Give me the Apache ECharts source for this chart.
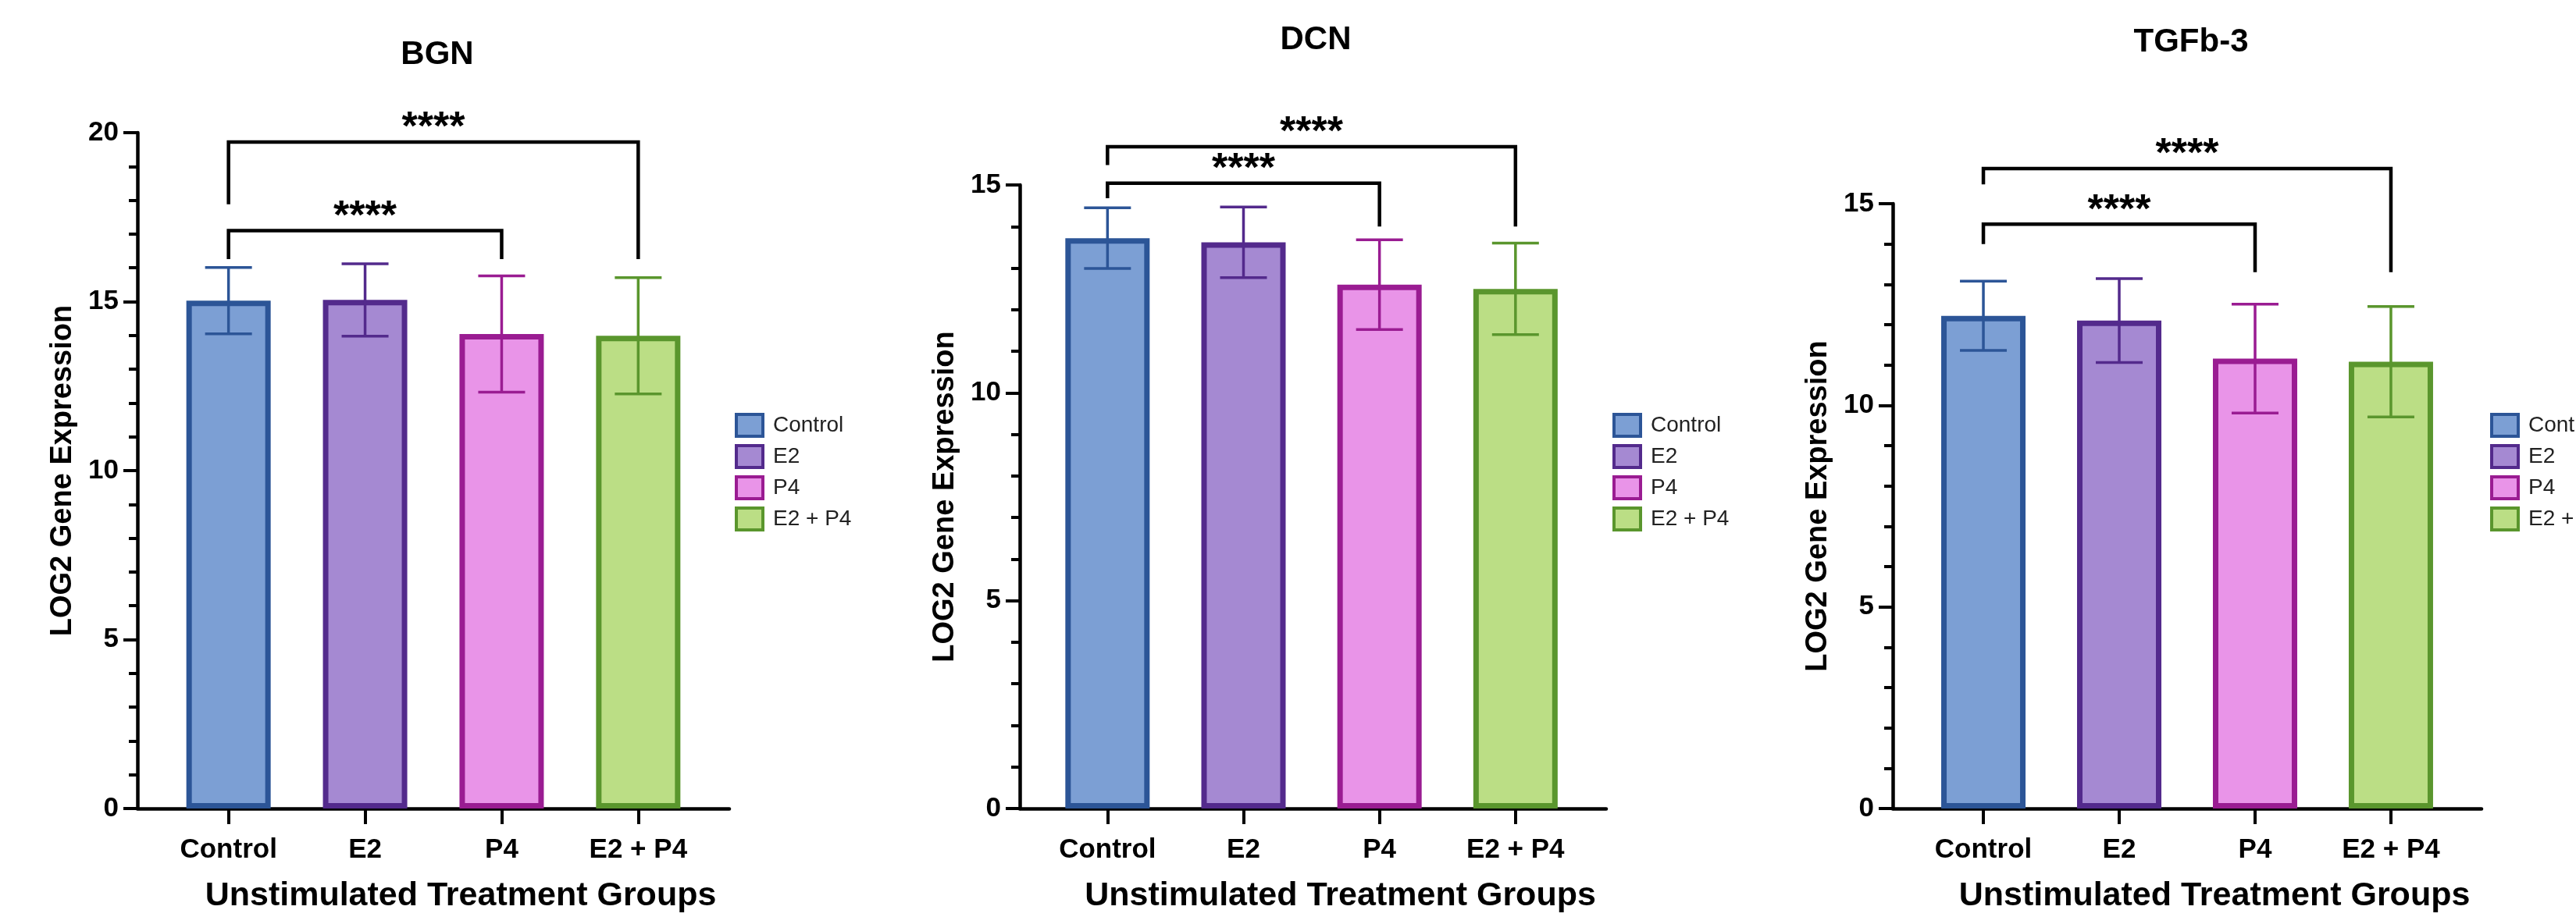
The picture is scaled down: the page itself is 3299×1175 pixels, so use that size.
<!DOCTYPE html>
<html>
<head>
<meta charset="utf-8">
<script src="https://cdn.jsdelivr.net/npm/echarts@6/dist/echarts.min.js"></script>
<style>
html,body{margin:0;padding:0;background:#fff;}
#c{width:3299px;height:1175px;}
</style>
</head>
<body>
<div id="c"></div>
<script>
// ---- data ----
const categories = ['Control', 'E2', 'P4', 'E2 + P4'];
const panelTitles = ['BGN', 'DCN', 'TGFb-3'];
const bgnMean = [15.03, 15.05, 14.04, 13.99];
const bgnSD   = [0.98, 1.07, 1.72, 1.72];
const dcnMean = [13.72, 13.62, 12.60, 12.50];
const dcnSD   = [0.73, 0.85, 1.08, 1.10];
const tgfMean = [12.22, 12.10, 11.16, 11.08];
const tgfSD   = [0.86, 1.04, 1.35, 1.37];
// brackets: [fromCat, toCat, level, leftEnd, rightEnd]
const bgnBrackets = [[0, 2, 17.10, 16.26, 16.26], [0, 3, 19.72, 17.88, 16.26]];
const dcnBrackets = [[0, 2, 15.04, 14.68, 14.00], [0, 3, 15.92, 15.48, 14.00]];
const tgfBrackets = [[0, 2, 14.49, 14.00, 13.30], [0, 3, 15.87, 15.48, 13.30]];
const yMaxes = [20, 15, 15];
const yTickStep = 5;
const sigLabel = '****';
const yName = 'LOG2 Gene Expression';
const xName = 'Unstimulated Treatment Groups';

// ---- styles ----
const fills   = ['#7C9FD4', '#A589D2', '#E994E8', '#BBDE85'];
const borders = ['#2C5597', '#532A8C', '#9A1C92', '#5A962D'];
const FONT = '"Liberation Sans", Arial, Helvetica, sans-serif';
const layouts = [
  {left: 176, right: 3299 - 934, top: 170, title: 555, titleTop: 44, legend: 936},
  {left: 1306, right: 3299 - 2057, top: 237, title: 1680, titleTop: 25, legend: 2060},
  {left: 2424, right: 3299 - 3178, top: 261, title: 2801, titleTop: 28, legend: 3184}
];
const means = [bgnMean, dcnMean, tgfMean];
const sds = [bgnSD, dcnSD, tgfSD];
const brackets = [bgnBrackets, dcnBrackets, tgfBrackets];

const catIdx = categories.map((c, i) => i);
const pads = [[0.667, 0.667], [0.645, 0.667], [0.667, 0.667]];

const grid = [], xAxis = [], yAxis = [], series = [], title = [], legend = [];

function errRender(params, api) {
  const i = api.value(0);
  const lo = api.coord([i, api.value(1)]);
  const hi = api.coord([i, api.value(2)]);
  const half = 30;
  const st = {stroke: borders[i], lineWidth: 3.5};
  return {type: 'group', children: [
    {type: 'line', shape: {x1: lo[0], y1: lo[1], x2: hi[0], y2: hi[1]}, style: st},
    {type: 'line', shape: {x1: hi[0] - half, y1: hi[1], x2: hi[0] + half, y2: hi[1]}, style: st},
    {type: 'line', shape: {x1: lo[0] - half, y1: lo[1], x2: lo[0] + half, y2: lo[1]}, style: st}
  ]};
}
function brRender(params, api) {
  const x1 = api.value(0), x2 = api.value(1);
  const a = api.coord([x1, api.value(2)]);
  const b = api.coord([x2, api.value(2)]);
  const al = api.coord([x1, api.value(3)]);
  const br = api.coord([x2, api.value(4)]);
  return {type: 'group', children: [
    {type: 'polyline', shape: {points: [al, a, b, br]},
     style: {stroke: '#000', lineWidth: 4.5, fill: null, lineJoin: 'miter'}},
    {type: 'text', style: {text: sigLabel, x: (a[0] + b[0]) / 2, y: a[1] - 17,
      align: 'center', verticalAlign: 'middle', fill: '#000',
      font: 'bold 52px ' + FONT}}
  ]};
}

layouts.forEach((L, p) => {
  grid.push({left: L.left, right: L.right, top: L.top, bottom: 1175 - 1043, containLabel: false});
  xAxis.push({
    type: 'value', gridIndex: p, min: -pads[p][0], max: categories.length - 1 + pads[p][1],
    splitLine: {show: false},
    axisLine: {show: true, onZero: false, lineStyle: {color: '#000', width: 4.5}},
    axisTick: {show: true, customValues: catIdx, length: 20, lineStyle: {color: '#000', width: 4}},
    axisLabel: {show: true, customValues: catIdx, formatter: v => categories[Math.round(v)],
      margin: 36, fontSize: 35, fontWeight: 'bold', color: '#000', fontFamily: FONT},
    name: xName, nameLocation: 'middle', nameGap: 91,
    nameTextStyle: {fontSize: 43, fontWeight: 'bold', color: '#000', fontFamily: FONT, padding: [0, 0, 0, 70]}
  });
  yAxis.push({
    type: 'value', gridIndex: p, min: 0, max: yMaxes[p], interval: yTickStep,
    splitLine: {show: false},
    axisLine: {show: true, onZero: false, lineStyle: {color: '#000', width: 4.5}},
    axisTick: {show: true, length: 18, lineStyle: {color: '#000', width: 4}},
    minorTick: {show: true, splitNumber: 5, length: 11, lineStyle: {color: '#000', width: 4}},
    axisLabel: {margin: 24, fontSize: 35, fontWeight: 'bold', color: '#000', fontFamily: FONT},
    name: yName, nameLocation: 'middle', nameGap: 76, nameRotate: 90,
    nameTextStyle: {fontSize: 38, fontWeight: 'bold', color: '#000', fontFamily: FONT}
  });
  categories.forEach((c, i) => {
    series.push({
      type: 'bar', name: c, xAxisIndex: p, yAxisIndex: p,
      data: [[i, means[p][i]]], barWidth: 108, barGap: '-100%',
      itemStyle: {color: fills[i], borderColor: borders[i], borderWidth: 7},
      emphasis: {disabled: true}, silent: true, z: 2
    });
  });
  series.push({
    type: 'custom', xAxisIndex: p, yAxisIndex: p, renderItem: errRender, clip: false, z: 3,
    encode: {x: 0, y: [1, 2]},
    data: means[p].map((m, i) => [i, m - sds[p][i], m + sds[p][i]]), silent: true
  });
  series.push({
    type: 'custom', xAxisIndex: p, yAxisIndex: p, renderItem: brRender, clip: false, z: 4,
    encode: {x: [0, 1], y: [2, 3, 4]},
    data: brackets[p], silent: true
  });
  title.push({text: panelTitles[p], left: L.title, textAlign: 'center', top: L.titleTop,
    textStyle: {fontSize: 42, fontWeight: 'bold', color: '#000', fontFamily: FONT}});
  legend.push({
    data: categories, orient: 'vertical', left: L.legend, top: 524, icon: 'rect',
    itemWidth: 34, itemHeight: 28, itemGap: 8, selectedMode: false,
    itemStyle: {borderWidth: 4},
    textStyle: {fontSize: 28, color: '#222', fontFamily: FONT, padding: [0, 0, 0, 8]}
  });
});

const chart = echarts.init(document.getElementById('c'), null, {renderer: 'canvas'});
chart.setOption({
  backgroundColor: '#fff', animation: false,
  title, legend, grid, xAxis, yAxis, series
});
</script>
</body>
</html>
